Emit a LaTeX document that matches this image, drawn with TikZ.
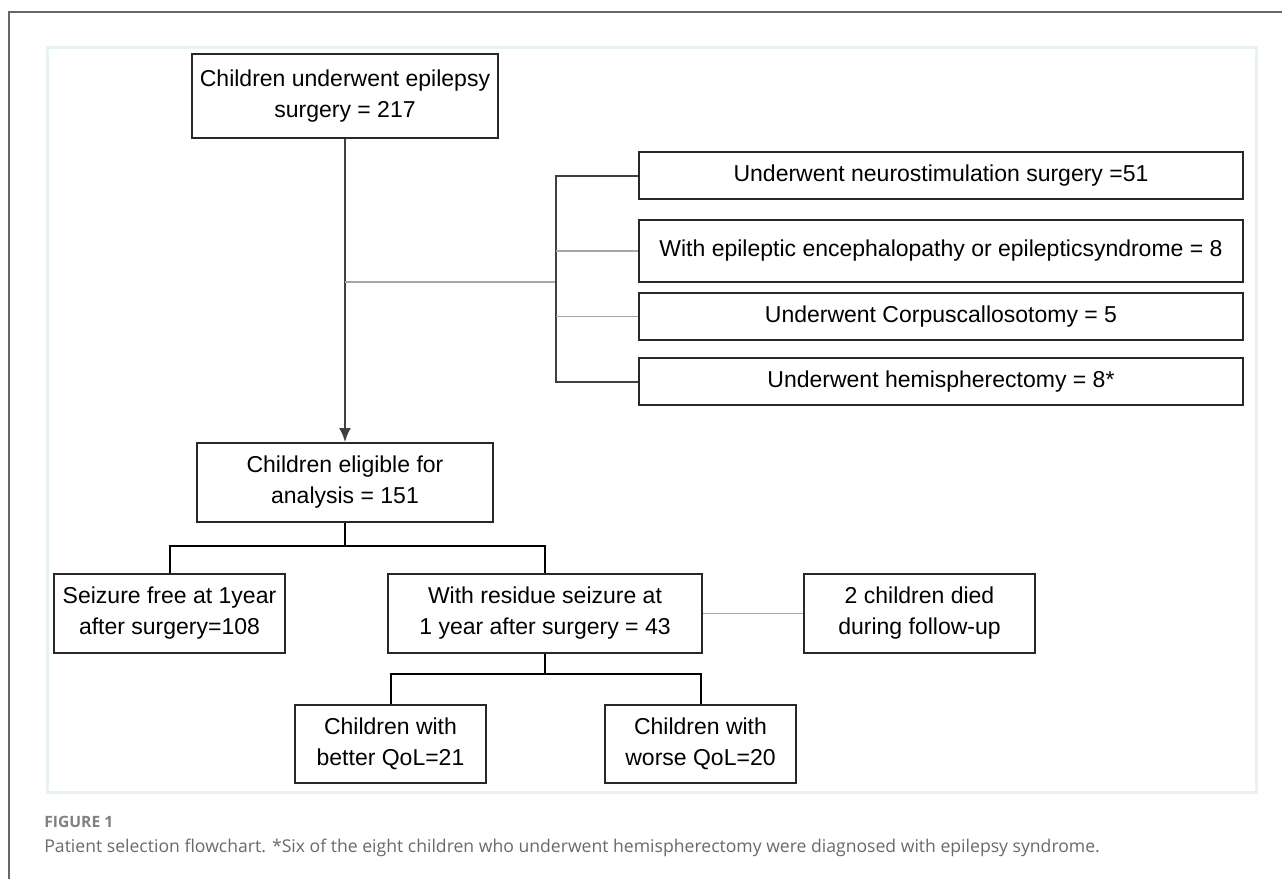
\documentclass[tikz,border=0pt]{standalone}
\usepackage{fontspec}
\usetikzlibrary{arrows.meta}
\setmainfont{Liberation Sans}
\newfontfamily\capfont{Open Sans}
\definecolor{panelcol}{RGB}{230,241,242}
\definecolor{boxline}{RGB}{40,40,40}
\definecolor{capgray}{RGB}{105,105,105}
\begin{document}
\begin{tikzpicture}[x=0.5pt, y=-0.5pt]
        % Common Styles
        \tikzset{flowbox/.style={draw=boxline, line width=1pt, rectangle, align=center, inner sep=0pt, font=\fontsize{11.5}{15.5}\selectfont}}
        \tikzset{link/.style={black, line width=1pt}}
        \tikzset{faint/.style={gray!70, line width=0.7pt}}
        \useasboundingbox (0,0) rectangle (1282,879);

        % Frame and panel
        \draw[gray!80!black, line width=0.7pt] (9,879) -- (9,12) -- (1282,12);
        \draw[panelcol, line width=1.5pt] (47,47) rectangle (1256,792);

        % 1. Surgery and exclusions
        \node[flowbox, minimum width=153pt, minimum height=42pt] (S1) at (345,96) {Children underwent epilepsy\\surgery = 217};
        \node[flowbox, minimum width=302pt, minimum height=23.5pt] (X1) at (941,175.5) {Underwent neurostimulation surgery =51};
        \node[flowbox, minimum width=302pt, minimum height=31pt] (X2) at (941,251) {With epileptic encephalopathy or epilepticsyndrome = 8};
        \node[flowbox, minimum width=302pt, minimum height=23.5pt] (X3) at (941,316.5) {Underwent Corpuscallosotomy = 5};
        \node[flowbox, minimum width=302pt, minimum height=23.5pt] (X4) at (941,381.5) {Underwent hemispherectomy = 8*};
        \node[flowbox, minimum width=148pt, minimum height=39.5pt] (A1) at (345,482.5) {Children eligible for\\analysis = 151};
        \coordinate (brk) at (556,282);
        \coordinate (tap) at (S1.south |- brk);
        \draw[link, draw=black!75, -{Latex[length=7pt, width=6pt]}] (S1.south) -- (A1.north);
        \draw[faint] (tap) -- (brk);
        \draw[link, draw=black!75] (X1.west) -| (brk) |- (X4.west);
        \draw[faint] (X2.west) -- (X2.west -| brk);
        \draw[faint] (X3.west) -- (X3.west -| brk);

        % 2. Outcome at one year
        \node[flowbox, minimum width=115.5pt, minimum height=39.5pt] (F1) at (169.5,613.5) {Seizure free at 1year\\after surgery=108};
        \node[flowbox, minimum width=157pt, minimum height=39.5pt] (R1) at (545,613.5) {With residue seizure at\\1 year after surgery = 43};
        \node[flowbox, minimum width=115.5pt, minimum height=39.5pt] (D1) at (919.5,613.5) {2 children died\\during follow-up};
        \coordinate (split1) at (345,546);
        \draw[link] (A1.south) -- (split1);
        \draw[link] (F1.north) |- (split1) -| (R1.north);
        \draw[faint] (R1.east) -- (D1.west);

        % 3. Quality of life
        \node[flowbox, minimum width=95.5pt, minimum height=39pt] (Q1) at (390.5,744) {Children with\\better QoL=21};
        \node[flowbox, minimum width=95.5pt, minimum height=39pt] (Q2) at (700.5,744) {Children with\\worse QoL=20};
        \coordinate (split2) at (545,674);
        \draw[link] (R1.south) -- (split2);
        \draw[link] (Q1.north) |- (split2) -| (Q2.north);

        % Caption
        \node[anchor=base west, inner sep=0pt, text=capgray!85, font=\capfont\bfseries\fontsize{7.8}{9}\selectfont] (C1) at (44,827) {FIGURE 1};
        \node[anchor=base west, inner sep=0pt, text=capgray, font=\capfont\fontsize{8.8}{10}\selectfont] (C2) at (44,852) {Patient selection flowchart. *Six of the eight children who underwent hemispherectomy were diagnosed with epilepsy syndrome.};
\end{tikzpicture}
\end{document}
